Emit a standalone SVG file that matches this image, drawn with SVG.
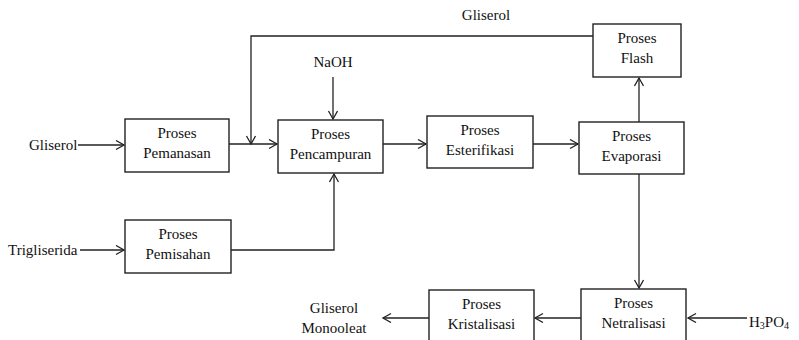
<svg xmlns="http://www.w3.org/2000/svg" width="799" height="340" viewBox="0 0 799 340">
<defs>
<marker id="arr" markerUnits="userSpaceOnUse" markerWidth="12" markerHeight="12" refX="9" refY="5" orient="auto">
<path d="M1,0.5 L9,5 L1,9.5" fill="none" stroke="#222" stroke-width="1.3"/>
</marker>
<style>
rect.box{fill:#fff;stroke:#222;stroke-width:1.4}
text{font-family:"Liberation Serif","Times New Roman",serif;font-size:15px;fill:#111}
text.c{text-anchor:middle}
.con path{fill:none;stroke:#222;stroke-width:1.3}
</style>
</defs>
<rect width="799" height="340" fill="#fff"/>
<g class="con" id="connectors">
<path d="M78,145 H124" marker-end="url(#arr)"/>
<path d="M229,144 H277" marker-end="url(#arr)"/>
<path d="M593,36 H251 V144" marker-end="url(#arr)"/>
<path d="M333,77 V119" marker-end="url(#arr)"/>
<path d="M231,250 H334 V174" marker-end="url(#arr)"/>
<path d="M383,144 H426" marker-end="url(#arr)"/>
<path d="M533,144 H578" marker-end="url(#arr)"/>
<path d="M639,122 V78" marker-end="url(#arr)"/>
<path d="M639,174 V288" marker-end="url(#arr)"/>
<path d="M581,318 H535" marker-end="url(#arr)"/>
<path d="M429,318 H383" marker-end="url(#arr)"/>
<path d="M747,318 H688" marker-end="url(#arr)"/>
<path d="M80,250 H124" marker-end="url(#arr)"/>
</g>
<g id="pemanasan"><rect class="box" x="125" y="119" width="104" height="53"/><text class="c" x="177" y="138">Proses</text><text class="c" x="177" y="158">Pemanasan</text></g>
<g id="pencampuran"><rect class="box" x="278" y="120" width="105" height="53"/><text class="c" x="330.5" y="139">Proses</text><text class="c" x="330.5" y="159">Pencampuran</text></g>
<g id="esterifikasi"><rect class="box" x="427" y="116" width="106" height="52"/><text class="c" x="480" y="135">Proses</text><text class="c" x="480" y="155">Esterifikasi</text></g>
<g id="evaporasi"><rect class="box" x="579" y="122" width="105" height="52"/><text class="c" x="631.5" y="141">Proses</text><text class="c" x="631.5" y="161">Evaporasi</text></g>
<g id="flash"><rect class="box" x="593" y="24" width="88" height="53"/><text class="c" x="637" y="43">Proses</text><text class="c" x="637" y="63">Flash</text></g>
<g id="pemisahan"><rect class="box" x="125" y="220" width="106" height="53"/><text class="c" x="178" y="239">Proses</text><text class="c" x="178" y="259">Pemisahan</text></g>
<g id="kristalisasi"><rect class="box" x="429" y="290" width="105" height="60"/><text class="c" x="481.5" y="309">Proses</text><text class="c" x="481.5" y="329">Kristalisasi</text></g>
<g id="netralisasi"><rect class="box" x="581" y="289" width="105" height="60"/><text class="c" x="633.5" y="308">Proses</text><text class="c" x="633.5" y="328">Netralisasi</text></g>
<g id="labels">
<text x="29" y="150">Gliserol</text>
<text x="8" y="255">Trigliserida</text>
<text class="c" x="333" y="67">NaOH</text>
<text class="c" x="486" y="20">Gliserol</text>
<text class="c" x="334" y="313">Gliserol</text>
<text class="c" x="334" y="333">Monooleat</text>
<text x="749" y="327">H<tspan font-size="10" dy="2">3</tspan><tspan dy="-2">PO</tspan><tspan font-size="10" dy="2">4</tspan></text>
</g>
</svg>
